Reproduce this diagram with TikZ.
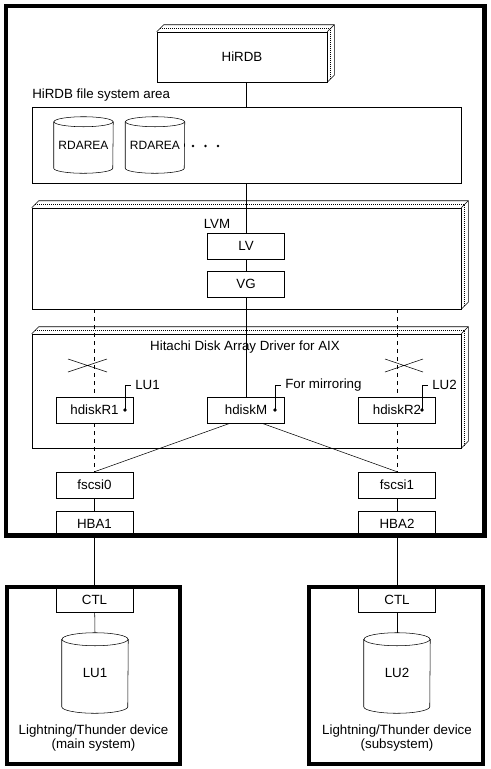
\documentclass[tikz,border=0pt]{standalone}
\usepackage{fontspec}
\setmainfont{Liberation Sans}
\usepackage{tikz}
\usetikzlibrary{calc}
\usetikzlibrary{positioning}

% top and right faces of a box drawn in depth
\newcommand{\slabside}[1]{%
  \draw (#1.north west) -- ++(7,-7) -- ($(#1.north east)+(7,-7)$) -- ($(#1.south east)+(7,-7)$) -- (#1.south east) ;
  \draw (#1.north east) -- ++(7,-7) ;
  \draw [line width=0.9pt, dash pattern={on 0.75pt off 0.75pt}] ($(#1.north west)+(3.5,-3.5)$) -- ($(#1.north east)+(3.5,-3.5)$) -- ($(#1.south east)+(3.5,-3.5)$) ;
}
% outline of a disk drum round a node
\newcommand{\drumline}[3]{%
  \draw ($(#1.north west)+(0,#3)$) -- ($(#1.south west)+(0,-#3)$) arc [start angle=180, end angle=0, x radius=#2, y radius=#3] -- ($(#1.north east)+(0,#3)$) ;
  \draw ($(#1.north)+(0,#3)$) ellipse [x radius=#2, y radius=#3] ;
}

\begin{document}
\begin{tikzpicture}[x=0.75pt,y=0.75pt,yscale=-1,xscale=1,
  every node/.style={font=\fontsize{10}{10}\selectfont, inner sep=0.75pt},
  unit/.style={draw, minimum width=57.75pt, minimum height=19.5pt, inner sep=0pt},
  layer/.style={draw, minimum width=321.75pt, inner sep=0pt},
  drum/.style={minimum width=#1, inner sep=0pt},
  dev/.style={draw, line width=3pt, minimum width=130pt, minimum height=132.75pt},
  gone/.style={dash pattern={on 3pt off 3pt}}]
\useasboundingbox (0,0) rectangle (491,769);

%Frame: server
\draw [line width=3.4pt] (6,6) rectangle (484.5,535.5) ;

%Shape: HiRDB
\node [draw, minimum width=127.5pt, minimum height=37.5pt] (hirdb) at (242,57) {HiRDB};
\slabside{hirdb}

%Shape: file system area
\node [anchor=west] (fslabel) at (31,95) {HiRDB file system area};
\node [layer, minimum height=57pt] (fsarea) at (246.5,145) {};
\node [drum=44.25pt, minimum height=42pt, font=\fontsize{9}{10}\selectfont] (rdA) at (83.5,145) {RDAREA};
\drumline{rdA}{29.5}{5}
\node [drum=44.25pt, minimum height=42pt, font=\fontsize{9}{10}\selectfont] (rdB) at (155,145) {RDAREA};
\drumline{rdB}{29.5}{5}
\foreach \x in {193,205.5,218} \fill (\x,146) circle (1.4) ;

%Shape: LVM
\node [layer, minimum height=75.75pt] (lvm) at (246.5,258.5) {};
\slabside{lvm}
\node (lvmlabel) at (217,224) {LVM};
\node [unit] (lv) at (246,246) {LV};
\node [unit] (vg) at (246,284) {VG};

%Shape: driver
\node [layer, minimum height=85.5pt] (hdad) at (246.5,391) {};
\slabside{hdad}
\node (hdadlabel) at (245,347) {Hitachi Disk Array Driver for AIX};
\node [unit] (hdiskA) at (94.5,410) {hdiskR1};
\node [unit] (mirror) at (246,410) {hdiskM};
\node [unit] (hdiskB) at (397,410) {hdiskR2};

%Crossed paths
\draw (68,359) -- (107,372) (68,372) -- (107,359) ;
\draw (385,359) -- (423,372) (385,372) -- (423,359) ;

%Leaders
\coordinate (dotA) at (125,410) ;
\coordinate (dotM) at (275,410) ;
\coordinate (dotB) at (422,410) ;
\node [anchor=west, inner sep=3pt] (tagA) at (131,385) {LU1};
\node [anchor=west, inner sep=3pt] (tagM) at (281,385) {For mirroring};
\node [anchor=west, inner sep=3pt] (tagB) at (428,385) {LU2};
\foreach \d/\t in {dotA/tagA,dotM/tagM,dotB/tagB} {
  \fill (\d) circle (1.8) ;
  \draw (\d) |- (\t.west) ;
}

%Shape: adapters
\node [unit] (fscsiA) at (94.5,485) {fscsi0};
\node [unit] (fscsiB) at (397,485) {fscsi1};
\node [unit] (hbaA) at (94.5,524) {HBA1};
\node [unit] (hbaB) at (397,524) {HBA2};

%Shape: storage devices
\node [dev] (devA) at (93.75,675.5) {};
\node [dev] (devB) at (396,675.5) {};
\node [unit] (ctlA) at (94.5,599.5) {CTL};
\node [unit] (ctlB) at (397,599.5) {CTL};
\node [drum=49.5pt, minimum height=60pt] (luA) at (95,673) {LU1};
\drumline{luA}{33}{6.5}
\node [drum=49.5pt, minimum height=60pt] (luB) at (397,673) {LU2};
\drumline{luB}{33}{6.5}
\node [align=center] (capA) at (93.5,738) {Lightning/Thunder device\\(main system)};
\node [align=center] (capB) at (397,738) {Lightning/Thunder device\\(subsystem)};

%Connectors
\draw (lv |- hirdb.south) -- (lv |- fsarea.north) ;
\draw (lv |- fsarea.south) -- (lv.north) ;
\draw (lv) -- (vg) ;
\draw (vg) -- (mirror) ;
\draw [gone] (hdiskA |- lvm.south) -- (hdiskA) ;
\draw [gone] (hdiskA) -- (fscsiA) ;
\draw [gone] (hdiskB |- lvm.south) -- (hdiskB) ;
\draw [gone] (hdiskB) -- (fscsiB) ;
\draw ([xshift=-12pt]mirror.south) -- (fscsiA.north) ;
\draw ([xshift=12pt]mirror.south) -- (fscsiB.north) ;
\draw (fscsiA) -- (hbaA) ;
\draw (fscsiB) -- (hbaB) ;
\draw (hbaA) -- (ctlA) ;
\draw (hbaB) -- (ctlB) ;
\draw (ctlA) -- (luA.north) ;
\draw (ctlB) -- (luB.north) ;

\end{tikzpicture}
\end{document}
